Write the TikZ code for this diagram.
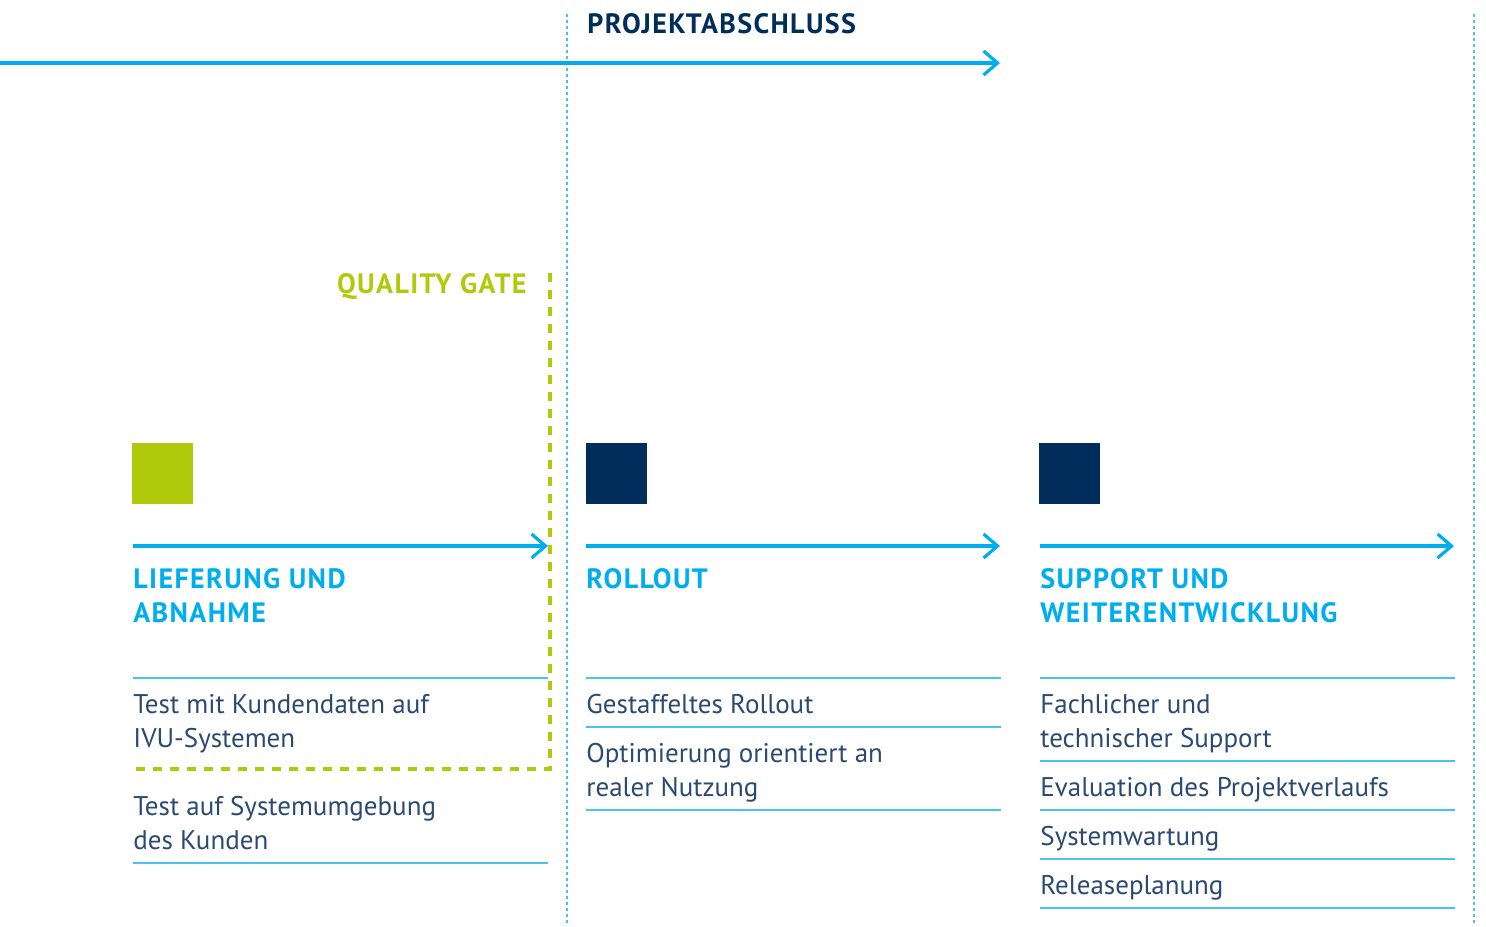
\documentclass[tikz,border=0pt]{standalone}
\usepackage{fontspec}
\setmainfont{PT Sans}
\newfontfamily\headfont[LetterSpace=5]{PT Sans}
\usetikzlibrary{arrows.meta}
\definecolor{ivublue}{HTML}{00AEEF}
\definecolor{ivunavy}{HTML}{002D5A}
\definecolor{ivutext}{HTML}{2A4A72}
\definecolor{ivugreen}{HTML}{AFCA0B}
\definecolor{ivuline}{HTML}{4CC1EE}
\tikzset{
  phasearrow/.style={draw=ivublue, line width=1.6pt, -{Straight Barb[length=7pt,width=12pt,line width=1.6pt]}},
  sep/.style={draw=ivuline, line width=0.6pt},
  dotline/.style={draw=ivuline, line width=0.9pt, dash pattern=on 1.5pt off 1.5pt},
  gate/.style={draw=ivugreen, line width=1.6pt, dash pattern=on 4.5pt off 4pt},
  headfnt/.style={font=\headfont\bfseries\fontsize{14}{17}\selectfont},
  head/.style={anchor=base west, inner sep=0pt, text=ivublue, headfnt, align=left},
  body/.style={anchor=base west, inner sep=0pt, text=ivutext, font=\fontsize{13.5}{17}\selectfont, align=left},
  square/.style={minimum size=30.5pt, inner sep=0pt, anchor=north west},
}
\begin{document}
\begin{tikzpicture}[x=0.5pt, y=-0.5pt]
\useasboundingbox (0,0) rectangle (1486,926);
% vertical dotted lines
\coordinate (v1t) at (567,14); \coordinate (v1b) at (567,926);
\coordinate (v2t) at (1474,14); \coordinate (v2b) at (1474,926);
\draw[dotline] (v1t) -- (v1b);
\draw[dotline] (v2t) -- (v2b);
% top arrow
\coordinate (ts) at (0,63); \coordinate (te) at (1000,63);
\draw[phasearrow] (ts) -- (te);
\node[anchor=base west, inner sep=0pt, text=ivunavy, headfnt] (pa) at (587,33) {PROJEKTABSCHLUSS};
% quality gate
\node[anchor=base east, inner sep=0pt, text=ivugreen, headfnt] (qg) at (527,293) {QUALITY GATE};
\coordinate (g1) at (550,273); \coordinate (g2) at (550,769); \coordinate (g3) at (133,769);
\draw[gate] (g1) -- (g2) -- (g3);
% squares
\node[square, fill=ivugreen] (s1) at (132,443) {};
\node[square, fill=ivunavy] (s2) at (586,443) {};
\node[square, fill=ivunavy] (s3) at (1039,443) {};
% phase arrows
\coordinate (a1s) at (133,546); \coordinate (a1e) at (548,546);
\coordinate (a2s) at (586,546); \coordinate (a2e) at (1000,546);
\coordinate (a3s) at (1040,546); \coordinate (a3e) at (1454,546);
\draw[phasearrow] (a1s) -- (a1e);
\draw[phasearrow] (a2s) -- (a2e);
\draw[phasearrow] (a3s) -- (a3e);
% headings (base = last line)
\node[head] (h1) at (133,622) {LIEFERUNG UND\\ABNAHME};
\node[head] (h2) at (586,588) {ROLLOUT};
\node[head] (h3) at (1040,622) {SUPPORT UND\\WEITERENTWICKLUNG};
% column 1
\draw[sep] (133,678) coordinate (c1a) -- (548,678) coordinate (c1b);
\node[body] (t11) at (133,747) {Test mit Kundendaten auf\\IVU-Systemen};
\node[body] (t12) at (133,849) {Test auf Systemumgebung\\des Kunden};
\draw[sep] (133,863) coordinate (c1c) -- (548,863) coordinate (c1d);
% column 2
\draw[sep] (586,678) coordinate (c2a) -- (1001,678) coordinate (c2b);
\node[body] (t21) at (586,713) {Gestaffeltes Rollout};
\draw[sep] (586,727) coordinate (c2c) -- (1001,727) coordinate (c2d);
\node[body] (t22) at (586,796) {Optimierung orientiert an\\realer Nutzung};
\draw[sep] (586,810) coordinate (c2e) -- (1001,810) coordinate (c2f);
% column 3
\draw[sep] (1040,678) coordinate (c3a) -- (1455,678) coordinate (c3b);
\node[body] (t31) at (1040,747) {Fachlicher und\\technischer Support};
\draw[sep] (1040,761) coordinate (c3c) -- (1455,761) coordinate (c3d);
\node[body] (t32) at (1040,796) {Evaluation des Projektverlaufs};
\draw[sep] (1040,810) coordinate (c3e) -- (1455,810) coordinate (c3f);
\node[body] (t33) at (1040,845) {Systemwartung};
\draw[sep] (1040,859) coordinate (c3g) -- (1455,859) coordinate (c3h);
\node[body] (t34) at (1040,894) {Releaseplanung};
\draw[sep] (1040,908) coordinate (c3i) -- (1455,908) coordinate (c3j);
\end{tikzpicture}
\end{document}
